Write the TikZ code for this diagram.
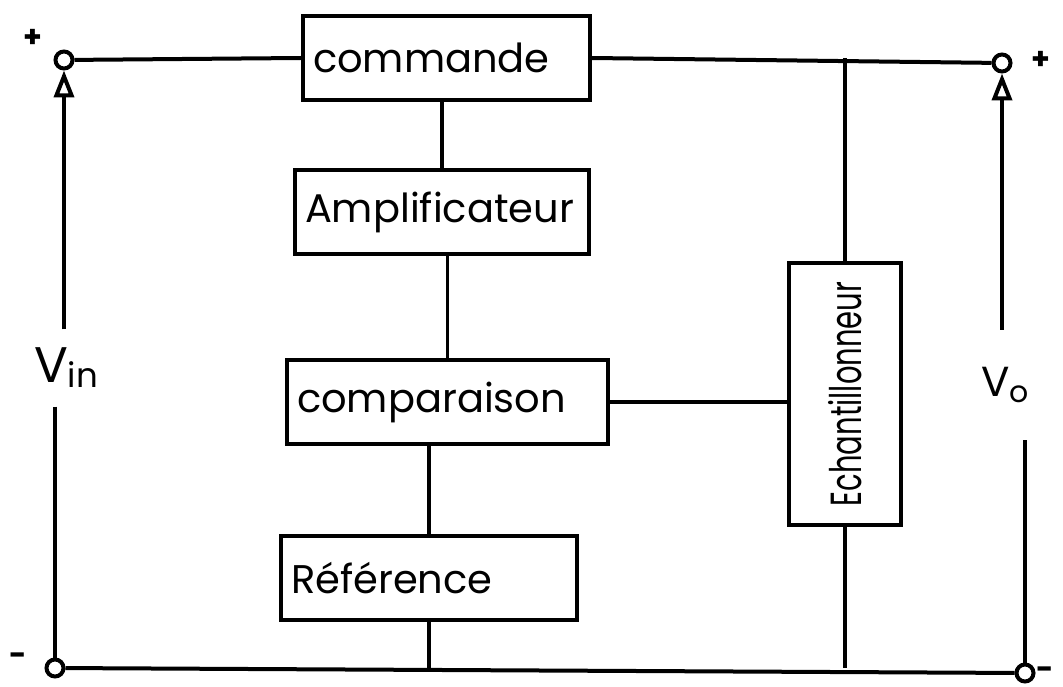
\documentclass[tikz,border=0pt]{standalone}
\usepackage{fontspec}
\usepackage{graphicx}
\newfontfamily\handfont{Poppins}
\usetikzlibrary{arrows.meta}

\begin{document}
\begin{tikzpicture}[
  x=1pt, y=-1pt,
  blk/.style={draw, line width=4pt, inner xsep=10pt, inner ysep=0pt,
              align=left, font=\handfont\fontsize{40}{46}\selectfont},
  term/.style={circle, draw, line width=4pt, minimum size=17pt, inner sep=0pt},
  wire/.style={line width=4pt},
  conn/.style={line width=3.4pt},
  sense/.style={wire, -{Triangle[open, length=27pt, width=20pt]}},
  lbl/.style={font=\handfont\fontsize{50}{56}\selectfont, inner sep=0pt},
  sgn/.style={font=\handfont\bfseries\fontsize{30}{34}\selectfont, inner sep=0pt}
]

\useasboundingbox (0,0) rectangle (1063,687);

% terminals
\node[term] (inP) at (64,60) {};
\node[term] (inN) at (55,668) {};
\node[term] (outP) at (1002,63) {};
\node[term] (outN) at (1025,673) {};
\node[sgn] (pinP) at (33,38) {+};
\node[sgn] (pinN) at (18,659) {-};
\node[sgn] (poutP) at (1041,60) {+};
\node[sgn] (poutN) at (1045,673) {-};

% blocks
\node[blk, text width=267pt, minimum height=84pt] (cmd) at (446.5,58) {commande\\[-10pt]};
\node[blk, text width=274pt, minimum height=84pt] (amp) at (442,212) {Amplificateur};
\node[blk, text width=301pt, minimum height=84pt] (comp) at (447.5,402) {comparaison};
\node[blk, text width=276pt, minimum height=84pt] (ref) at (429,578) {Référence};
\node[blk, inner xsep=0pt, minimum width=112pt, minimum height=262pt,
      font=\handfont\fontsize{29}{32}\selectfont] (ech) at (845,394)
  {\rotatebox{90}{\scalebox{1}[1.5]{Echantillonneur}}};

% rails
\draw[wire] (inP) -- (cmd.west);
\draw[wire] (cmd.east) -- (outP);
\draw[wire] (inN) -- (outN);

% chain
\draw[conn] (amp.north) -- (amp.north |- cmd.south);
\draw[conn] (comp.north) -- (comp.north |- amp.south);
\draw[conn] (ref.north) -- (ref.north |- comp.south);
\draw[conn] (ref.south) -- (ref.south |- inN);
\draw[conn] (ech.north) -- (ech.north |- cmd.east);
\draw[conn] (ech.south) -- (ech.south |- inN);
\draw[conn] (comp.east) -- (comp.east -| ech.west);

% voltages
\node[lbl, minimum height=77pt] (vin) at (66,368)
  {V\raisebox{-5pt}{\fontsize{34}{34}\selectfont in}};
\node[lbl, minimum height=110pt, font=\handfont\fontsize{42}{48}\selectfont] (vo) at (1005,385)
  {V\raisebox{-6pt}{\fontsize{30}{30}\selectfont o}};
\draw[sense] (inP.south |- vin.north) -- (inP.south);
\draw[wire] (vin.south -| inN.north) -- (inN.north);
\draw[sense] (outP.south |- vo.north) -- (outP.south);
\draw[wire] (vo.south -| outN.north) -- (outN.north);

\end{tikzpicture}
\end{document}
